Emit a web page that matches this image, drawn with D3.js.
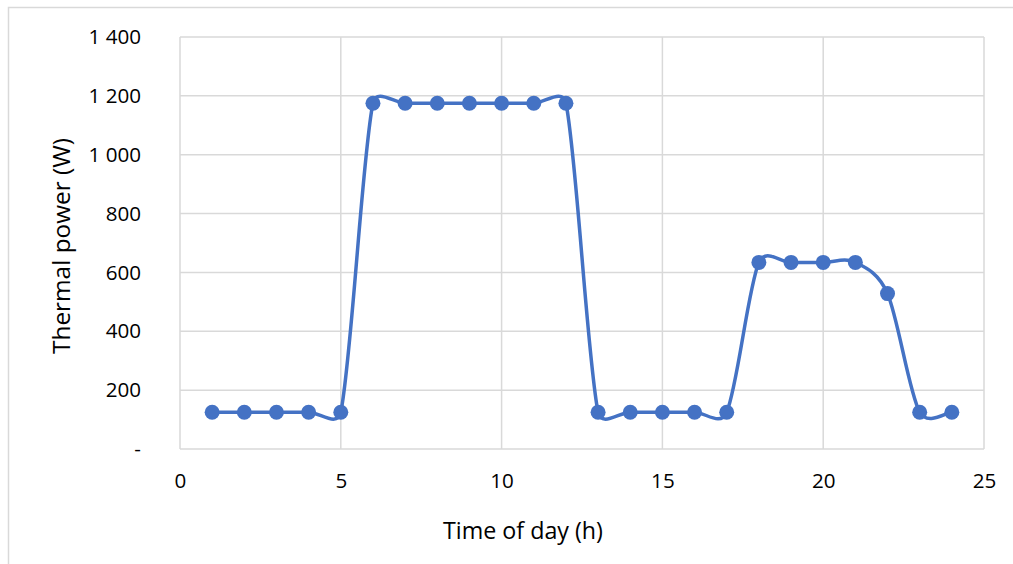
<!DOCTYPE html>
<html>
<head>
<meta charset="utf-8">
<script src="https://cdn.jsdelivr.net/npm/d3@7"></script>
<style>
  html, body { margin: 0; padding: 0; background: #fff; }
  svg { display: block; }
  text { font-family: "Open Sans", sans-serif; fill: #000; }
</style>
</head>
<body>
<svg id="chart" width="1013" height="564"></svg>
<script>
// hourly thermal power profile
var hours = [1, 2, 3, 4, 5, 6, 7, 8, 9, 10, 11, 12, 13, 14, 15, 16, 17, 18, 19, 20, 21, 22, 23, 24];
var power = [125, 125, 125, 125, 125, 1175, 1175, 1175, 1175, 1175, 1175, 1175,
             125, 125, 125, 125, 125, 634, 634, 634, 634, 528, 125, 125];
var xTicks = [0, 5, 10, 15, 20, 25];
var yTicks = [0, 200, 400, 600, 800, 1000, 1200, 1400];
var xLabel = "Time of day (h)";
var yLabel = "Thermal power (W)";

var svg = d3.select("#chart"),
    margin = {top: 37, right: 29, bottom: 115, left: 180},
    width = +svg.attr("width") - margin.left - margin.right,
    height = +svg.attr("height") - margin.top - margin.bottom;

// shrink/grow a text's font so it spans the given width
function fitWidth(sel, target) {
  var node = sel.node(), fs = +sel.attr("font-size");
  var w = node.getComputedTextLength();
  if (w > 0) sel.attr("font-size", fs * target / w);
  return +sel.attr("font-size");
}

// outer chart frame (runs off the right and bottom of the picture)
svg.append("rect")
    .attr("x", 8.5).attr("y", 7.5)
    .attr("width", 1100).attr("height", 700)
    .attr("fill", "none")
    .attr("stroke", "#d9d9d9")
    .attr("stroke-width", 1.5);

var g = svg.append("g").attr("transform", "translate(" + margin.left + "," + margin.top + ")");

var x = d3.scaleLinear().domain([0, 25]).range([0, width]);
var y = d3.scaleLinear().domain([0, 1400]).range([height, 0]);

// gridlines
g.append("g")
  .selectAll("line")
  .data(yTicks)
  .enter().append("line")
    .attr("x1", 0).attr("x2", width)
    .attr("y1", function(d) { return y(d); })
    .attr("y2", function(d) { return y(d); })
    .attr("stroke", "#d9d9d9")
    .attr("stroke-width", 1.5);

g.append("g")
  .selectAll("line")
  .data(xTicks)
  .enter().append("line")
    .attr("x1", function(d) { return x(d); })
    .attr("x2", function(d) { return x(d); })
    .attr("y1", 0).attr("y2", height)
    .attr("stroke", "#d9d9d9")
    .attr("stroke-width", 1.5);

// axes
var fmt = function(d) {
  if (d === 0) return "-";
  return d3.format(",")(d).replace(/,/g, " ");
};

var yAxis = g.append("g")
    .call(d3.axisLeft(y).tickValues(yTicks).tickFormat(fmt).tickSize(0).tickPadding(39));
yAxis.select(".domain").remove();
yAxis.selectAll("text").attr("font-size", 19.5).attr("font-family", "'Open Sans', sans-serif");

var tickSize = fitWidth(yAxis.selectAll("text").filter(function(d) { return d === 1200; }), 52.5);
yAxis.selectAll("text").attr("font-size", tickSize);

var xAxis = g.append("g")
    .attr("transform", "translate(0," + height + ")")
    .call(d3.axisBottom(x).tickValues(xTicks).tickSize(0).tickPadding(24));
xAxis.select(".domain").remove();
xAxis.selectAll("text").attr("font-size", tickSize).attr("font-family", "'Open Sans', sans-serif");

// axis titles
var xt = svg.append("text")
    .attr("x", 523).attr("y", 539)
    .attr("text-anchor", "middle")
    .attr("font-size", 19)
    .text(xLabel);
fitWidth(xt, 160);

var yt = svg.append("text")
    .attr("transform", "translate(70,246) rotate(-90)")
    .attr("text-anchor", "middle")
    .attr("font-size", 19)
    .text(yLabel);
fitWidth(yt, 216);

// series
var pts = hours.map(function(h, i) { return [x(h), y(power[i])]; });

// spreadsheet-style smoothed line: bezier with 1/6 tangents,
// control arm capped at half the segment length
function smoothPath(p) {
  var path = d3.path(), f = 1 / 6;
  var dist = function(a, b) { return Math.hypot(b[0] - a[0], b[1] - a[1]); };
  path.moveTo(p[0][0], p[0][1]);
  for (var i = 0; i < p.length - 1; i++) {
    var p0 = p[Math.max(i - 1, 0)], p1 = p[i], p2 = p[i + 1], p3 = p[Math.min(i + 2, p.length - 1)];
    var d12 = dist(p1, p2), d02 = dist(p0, p2), d13 = dist(p1, p3);
    var f1 = f, f2 = f;
    if (d02 * f > d12 / 2) f1 = d12 / (2 * d02);
    if (d13 * f > d12 / 2) f2 = d12 / (2 * d13);
    path.bezierCurveTo(
      p1[0] + (p2[0] - p0[0]) * f1, p1[1] + (p2[1] - p0[1]) * f1,
      p2[0] - (p3[0] - p1[0]) * f2, p2[1] - (p3[1] - p1[1]) * f2,
      p2[0], p2[1]);
  }
  return path.toString();
}

g.append("path")
    .attr("fill", "none")
    .attr("stroke", "#4472c4")
    .attr("stroke-width", 3.5)
    .attr("stroke-linejoin", "round")
    .attr("d", smoothPath(pts));

g.append("g")
  .selectAll("circle")
  .data(hours)
  .enter().append("circle")
    .attr("cx", function(d) { return x(d); })
    .attr("cy", function(d, i) { return y(power[i]); })
    .attr("r", 7.5)
    .attr("fill", "#4472c4");
</script>
</body>
</html>
